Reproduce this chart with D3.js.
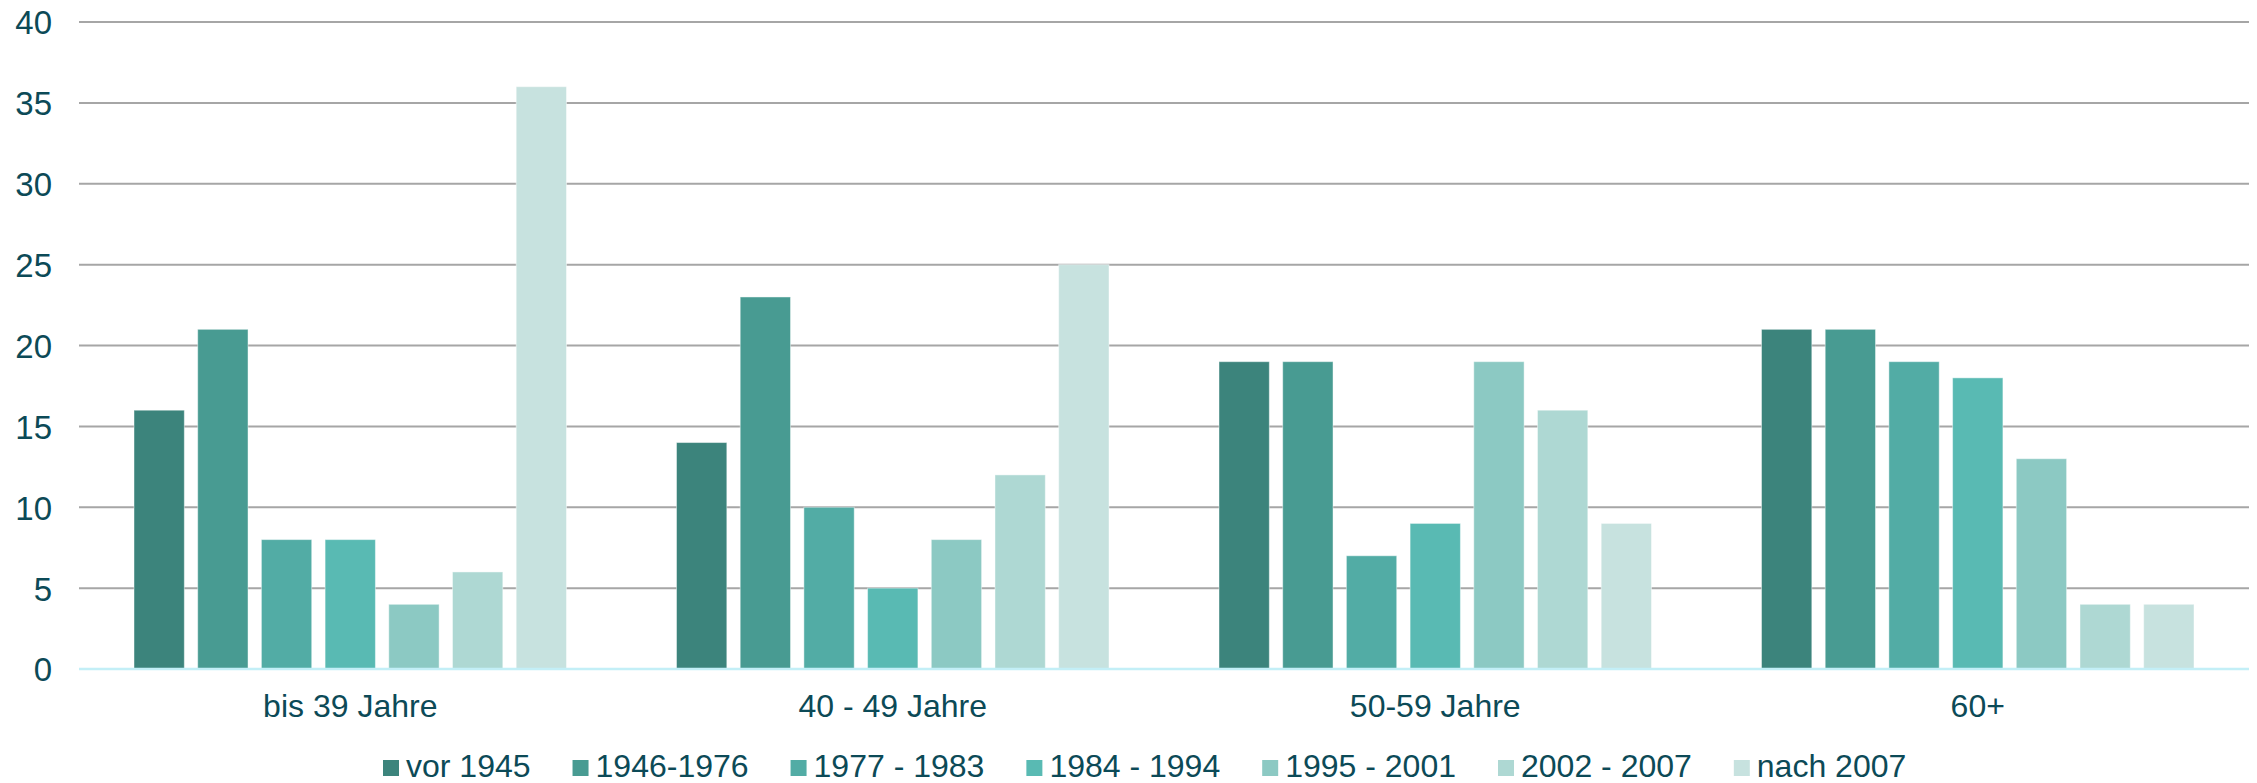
<!DOCTYPE html>
<html>
<head>
<meta charset="utf-8">
<script src="https://cdn.jsdelivr.net/npm/d3@7"></script>
<style>
  html, body { margin: 0; padding: 0; background: #ffffff; }
  svg { display: block; }
  text { font-family: "Liberation Sans", Arial, sans-serif; fill: #0c4a57; }
</style>
</head>
<body>
<svg id="chart" width="2257" height="783"></svg>
<script>
// ---- data ----
const categories = ["bis 39 Jahre", "40 - 49 Jahre", "50-59 Jahre", "60+"];
const seriesNames = ["vor 1945", "1946-1976", "1977 - 1983", "1984 - 1994", "1995 - 2001", "2002 - 2007", "nach 2007"];
const vor1945   = [16, 14, 19, 21];
const s1946_1976 = [21, 23, 19, 21];
const s1977_1983 = [8, 10, 7, 19];
const s1984_1994 = [8, 5, 9, 18];
const s1995_2001 = [4, 8, 19, 13];
const s2002_2007 = [6, 12, 16, 4];
const nach2007  = [36, 25, 9, 4];
const yTicks = [0, 5, 10, 15, 20, 25, 30, 35, 40];
const seriesColors = ["#3c847c", "#489b92", "#52aca5", "#59bab3", "#8cc9c3", "#aed8d3", "#c7e2df"];

const seriesValues = [vor1945, s1946_1976, s1977_1983, s1984_1994, s1995_2001, s2002_2007, nach2007];

// ---- layout ----
const svg = d3.select("#chart");
const mLeft = 79, mRight = 2249, mTop = 22, mBottom = 669;
const textColor = "#0c4a57";

const x0 = d3.scaleBand().domain(categories).range([mLeft, mRight]).padding(0);
const groupPad = 55;
const x1 = d3.scaleBand().domain(seriesNames)
  .range([groupPad, x0.bandwidth() - groupPad])
  .paddingInner(0.21).paddingOuter(0);
const y = d3.scaleLinear().domain([0, 40]).range([mBottom, mTop]);

// gridlines
svg.append("g").selectAll("line")
  .data(yTicks.filter(d => d > 0))
  .join("line")
  .attr("x1", mLeft).attr("x2", mRight)
  .attr("y1", d => y(d)).attr("y2", d => y(d))
  .attr("stroke", "#a6a6a6").attr("stroke-width", 2);

// y axis labels
const yAxis = d3.axisLeft(y).tickValues(yTicks).tickSize(0).tickPadding(0);
const yg = svg.append("g").attr("transform", `translate(${mLeft - 27},0)`).call(yAxis);
yg.select(".domain").remove();
yg.selectAll("text")
  .attr("font-size", 33)
  .attr("font-family", "Liberation Sans, Arial, sans-serif")
  .attr("fill", textColor)
  .attr("dy", "0.36em");

// bars
const groups = svg.append("g").selectAll("g")
  .data(categories)
  .join("g")
  .attr("transform", d => `translate(${x0(d)},0)`);

groups.selectAll("rect")
  .data((c, ci) => seriesNames.map((s, si) => ({ s, si, v: seriesValues[si][ci] })))
  .join("rect")
  .attr("x", d => x1(d.s))
  .attr("width", x1.bandwidth())
  .attr("y", d => y(d.v))
  .attr("height", d => y(0) - y(d.v))
  .attr("fill", d => seriesColors[d.si])
  .attr("stroke", "rgba(255,255,255,0.45)")
  .attr("stroke-width", 1);

// baseline
svg.append("line")
  .attr("x1", mLeft).attr("x2", mRight)
  .attr("y1", y(0)).attr("y2", y(0))
  .attr("stroke", "#c3eff7").attr("stroke-width", 2.5);

// category labels
const xAxis = d3.axisBottom(x0).tickSize(0).tickPadding(0);
const xg = svg.append("g").attr("transform", `translate(0,${mBottom + 48})`).call(xAxis);
xg.select(".domain").remove();
xg.selectAll("text")
  .attr("font-size", 32)
  .attr("font-family", "Liberation Sans, Arial, sans-serif")
  .attr("fill", textColor)
  .attr("dy", 0)
  .attr("y", 0);

// legend
const legend = svg.append("g");
const items = legend.selectAll("g").data(seriesNames).join("g");
items.append("rect")
  .attr("width", 16).attr("height", 16)
  .attr("y", -17)
  .attr("fill", (d, i) => seriesColors[i]);
items.append("text")
  .attr("x", 23)
  .attr("y", 0)
  .attr("font-size", 32)
  .attr("fill", textColor)
  .text(d => d);

let cx = 0;
const gap = 42;
items.each(function () {
  const g = d3.select(this);
  const w = 23 + g.select("text").node().getComputedTextLength();
  g.attr("transform", `translate(${cx},0)`);
  cx += w + gap;
});
legend.attr("transform", `translate(383,777)`);
</script>
</body>
</html>
